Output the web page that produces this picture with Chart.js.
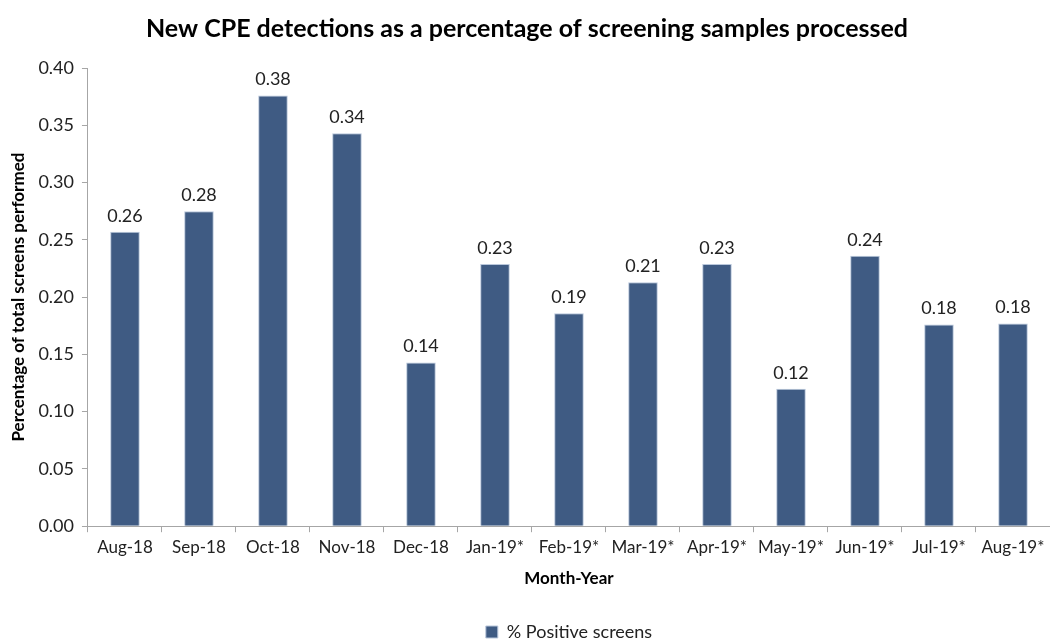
<!DOCTYPE html>
<html>
<head>
<meta charset="utf-8">
<script src="https://cdn.jsdelivr.net/npm/chart.js@4/dist/chart.umd.min.js"></script>
<style>
  body { margin: 0; background: #fff; }
  #wrap { width: 1050px; height: 642px; }
</style>
</head>
<body>
<div id="wrap"><canvas id="chart"></canvas></div>
<script>
// month labels and % positive screens
var months = ['Aug-18', 'Sep-18', 'Oct-18', 'Nov-18', 'Dec-18', 'Jan-19*', 'Feb-19*',
  'Mar-19*', 'Apr-19*', 'May-19*', 'Jun-19*', 'Jul-19*', 'Aug-19*'];
var positive = [0.257, 0.275, 0.376, 0.343, 0.143, 0.229, 0.186, 0.213, 0.229, 0.120, 0.236, 0.176, 0.177];
var yTicks = [0, 0.05, 0.10, 0.15, 0.20, 0.25, 0.30, 0.35, 0.40];

var FONT = 'Lato, "Open Sans", sans-serif';

// draws the value above each bar
var barLabels = {
  id: 'barLabels',
  afterDatasetsDraw: function(chart) {
    var ctx = chart.ctx;
    var meta = chart.getDatasetMeta(0);
    ctx.save();
    ctx.font = '18px ' + FONT;
    ctx.fillStyle = '#222';
    ctx.textAlign = 'center';
    ctx.textBaseline = 'bottom';
    meta.data.forEach(function(bar, i) {
      ctx.fillText(positive[i].toFixed(2), bar.x, bar.y - 7);
    });
    ctx.restore();
  }
};

// keep the legend centred under the plot area and near the bottom edge, like Excel does
var legendUnderPlot = {
  id: 'legendUnderPlot',
  afterLayout: function(chart) {
    var lg = chart.legend;
    var shift = (chart.chartArea.left + chart.chartArea.right) / 2 - (lg.left + lg.right) / 2;
    lg.left += shift;
    lg.right += shift;
    lg.top += 9;
    lg.bottom += 9;
  }
};

new Chart('chart', {
  type: 'bar',
  data: {
    labels: months,
    datasets: [{
      label: '% Positive screens',
      data: positive,
      backgroundColor: '#3F5B83',
      borderColor: '#B9C7DB',
      borderWidth: 1,
      categoryPercentage: 1,
      barPercentage: 0.4
    }]
  },
  options: {
    responsive: true,
    maintainAspectRatio: false,
    animation: false,
    layout: { padding: { top: 0, right: 0, left: 4, bottom: 0 } },
    plugins: {
      title: {
        display: true,
        text: 'New CPE detections as a percentage of screening samples processed',
        font: { family: FONT, size: 25, weight: 'bold' },
        color: '#000',
        padding: { top: 14, bottom: 24 }
      },
      legend: {
        position: 'bottom',
        labels: {
          boxWidth: 12,
          boxHeight: 12,
          color: '#222',
          font: { family: FONT, size: 18 },
          padding: 2
        }
      },
      tooltip: { enabled: false }
    },
    scales: {
      x: {
        offset: true,
        border: { color: '#A6A6A6' },
        grid: { offset: true, drawOnChartArea: false, drawTicks: true, tickLength: 6, color: '#A6A6A6' },
        ticks: { color: '#222', font: { family: FONT, size: 17 }, maxRotation: 0, autoSkip: false, padding: 5 },
        title: {
          display: true,
          text: 'Month-Year',
          color: '#000',
          font: { family: FONT, size: 17, weight: 'bold' },
          padding: { top: 6, bottom: 23 }
        }
      },
      y: {
        min: 0,
        max: 0.4,
        afterBuildTicks: function(axis) {
          axis.ticks = yTicks.map(function(v) { return { value: v }; });
        },
        border: { color: '#A6A6A6' },
        grid: { drawOnChartArea: false, drawTicks: true, tickLength: 6, color: '#A6A6A6' },
        ticks: {
          color: '#222',
          font: { family: FONT, size: 18 },
          padding: 8,
          callback: function(v) { return Number(v).toFixed(2); }
        },
        title: {
          display: true,
          text: 'Percentage of total screens performed',
          color: '#000',
          font: { family: FONT, size: 17, weight: 'bold' },
          padding: { bottom: 2 }
        }
      }
    }
  },
  plugins: [barLabels, legendUnderPlot]
});
</script>
</body>
</html>
